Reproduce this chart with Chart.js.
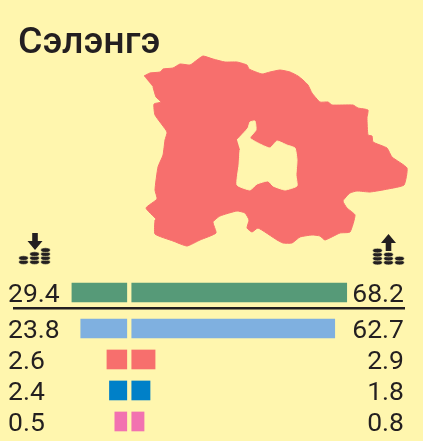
<!DOCTYPE html>
<html>
<head>
<meta charset="utf-8">
<title>Сэлэнгэ</title>
<script src="https://cdn.jsdelivr.net/npm/chart.js@4"></script>
<style>
  html, body { margin: 0; padding: 0; background: #FFF6AE; }
  #wrap { position: relative; width: 423px; height: 441px; overflow: hidden; font-family: Roboto, sans-serif; }
  #wrap canvas, #wrap svg { position: absolute; left: 0; top: 0; }
  h1 { position: absolute; left: 18px; top: 18px; margin: 0; font-size: 37.5px; line-height: 44px; font-weight: 500; color: #231F20; }
</style>
</head>
<body>
<div id="wrap">
  <canvas id="map" width="423" height="441"></canvas>
  <canvas id="bars" width="423" height="441"></canvas>
  <h1 id="title"></h1>
  <svg width="423" height="441" id="icons">
    <defs>
      <g id="coin"><ellipse cx="0" cy="0" rx="4.8" ry="2.3" fill="#231F20" stroke="#FFF6AE" stroke-width="0.6"/></g>
    </defs>
    <g id="iconLeft"></g>
    <g id="iconRight"></g>
  </svg>
</div>
<script>
var regionName = "Сэлэнгэ";

// printed numbers
var leftValues = [29.4, 23.8, 2.6, 2.4, 0.5];
var rightValues = [68.2, 62.7, 2.9, 1.8, 0.8];

// the bars in the picture are not proportional to the printed numbers,
// so their lengths are read off separately (units of the 68.2 bar)
var leftBars = [17.4, 14.6, 6.3, 5.5, 3.8];
var rightBars = [68.2, 64.4, 7.4, 5.8, 3.9];
var rows = [0, 1.16, 2.16, 3.16, 4.16];
var barColors = ["#569A78", "#7FB0E0", "#F76F6D", "#0080C8", "#F272B0"];

var regionOutline = [
  [144,76],[150,73],[160,72],[163,69],[173,68],[180,64],[190,65],[197,60],[203,56],[213,59],[225,62],[237,62],
  [247,65],[249,69],[262,74],[270,72],[280,70],[290,72],[298,76],[303,80],[308,85],[312,93],[320,102],[328,102],
  [332,105],[353,105],[358,108],[368,110],[367,118],[368,135],[372,136],[373,142],[387,148],[392,157],[407,168],
  [404,185],[388,189],[370,192],[357,191],[350,193],[343,201],[347,208],[355,215],[350,232],[340,233],[325,240],
  [320,236],[312,235],[300,237],[292,243],[283,243],[277,240],[258,228],[252,232],[247,228],[249,220],[245,213],
  [237,211],[220,216],[213,222],[216,233],[200,240],[187,246],[173,241],[155,234],[155,220],[156,219],[146,208],
  [157,199],[155,190],[158,167],[163,155],[165,140],[167,132],[155,115],[154,104],[161,102],[156,97],[153,87]
];
var regionHole = [
  [237,140],[248,128],[250,122],[255,121],[256,130],[250,138],[262,145],[270,148],[277,141],[287,145],[295,148],
  [297,160],[296,175],[297,186],[285,190],[273,186],[268,181],[257,184],[250,190],[237,185],[239,165],[240,150]
];

var bgColor = "#FFF6AE";
var textColor = "#231F20";
var regionColor = "#F76F6D";

function toPoints(list){
  return list.map(function(p){ return {x: p[0], y: p[1]}; });
}

document.getElementById("title").textContent = regionName;

new Chart(document.getElementById("map"), {
  type: 'scatter',
  data: {
    datasets: [
      {data: toPoints(regionHole), showLine: true, tension: 0.15, fill: 'shape', backgroundColor: bgColor, borderColor: bgColor, borderWidth: 1, pointRadius: 0, order: 0},
      {data: toPoints(regionOutline), showLine: true, tension: 0.15, fill: 'shape', backgroundColor: regionColor, borderColor: regionColor, borderWidth: 1, pointRadius: 0, order: 1}
    ]
  },
  options: {
    responsive: false,
    animation: false,
    devicePixelRatio: 1,
    layout: {padding: 0},
    plugins: {legend: {display: false}, tooltip: {enabled: false}},
    scales: {
      x: {display: false, min: 0, max: 423},
      y: {display: false, min: 0, max: 441, reverse: true}
    }
  }
});

var rowLabels = {
  id: 'rowLabels',
  afterDatasetsDraw: function(chart){
    var c = chart.ctx, y = chart.scales.y;
    c.save();
    c.fillStyle = textColor;
    c.font = "26.5px Roboto";
    c.textBaseline = "alphabetic";
    rows.forEach(function(r, i){
      var py = y.getPixelForValue(r) + 9.5;
      c.textAlign = "left";
      c.fillText(leftValues[i].toFixed(1), 8, py);
      c.textAlign = "right";
      c.fillText(rightValues[i].toFixed(1), 404, py);
    });
    // line under the total row
    var ly = y.getPixelForValue((rows[0] + rows[1]) / 2) - 2.2;
    c.strokeStyle = textColor;
    c.lineWidth = 2.5;
    c.beginPath();
    c.moveTo(13, ly);
    c.lineTo(405, ly);
    c.stroke();
    c.restore();
  }
};

new Chart(document.getElementById("bars"), {
  type: 'bar',
  plugins: [rowLabels],
  data: {
    datasets: [
      {xAxisID: 'xLeft', data: leftBars.map(function(v, i){ return {x: v, y: rows[i]}; }), backgroundColor: barColors, barThickness: 19, grouped: false},
      {xAxisID: 'xRight', data: rightBars.map(function(v, i){ return {x: v, y: rows[i]}; }), backgroundColor: barColors, barThickness: 19, grouped: false}
    ]
  },
  options: {
    indexAxis: 'y',
    responsive: false,
    animation: false,
    devicePixelRatio: 1,
    layout: {padding: 0},
    plugins: {legend: {display: false}, tooltip: {enabled: false}},
    scales: {
      xLeft: {type: 'linear', display: false, reverse: true, min: -93.9, max: 40.2},
      xRight: {type: 'linear', display: false, min: -41.8, max: 92.4},
      y: {type: 'linear', display: false, offset: false, reverse: true, min: -9.435, max: 4.79}
    }
  }
});

// coin icons
var svgNS = "http://www.w3.org/2000/svg";
function addStack(parent, cx, bottom, count){
  for (var i = 0; i < count; i++) {
    var e = document.createElementNS(svgNS, "use");
    e.setAttribute("href", "#coin");
    e.setAttribute("x", cx);
    e.setAttribute("y", bottom - 2.4 - i * 4);
    parent.appendChild(e);
  }
}
function addArrow(parent, cx, top, up){
  var p = document.createElementNS(svgNS, "path");
  var d = up
    ? "M" + cx + " " + top + " l7.5 9 h-4.7 v8 h-5.6 v-8 h-4.7 z"
    : "M" + cx + " " + (top + 17) + " l7.5 -9 h-4.7 v-8 h-5.6 v8 h-4.7 z";
  p.setAttribute("d", d);
  p.setAttribute("fill", textColor);
  parent.appendChild(p);
}
var iconLeft = document.getElementById("iconLeft");
addArrow(iconLeft, 35, 233, false);
addStack(iconLeft, 23.5, 264.5, 2);
addStack(iconLeft, 34.5, 264.5, 3);
addStack(iconLeft, 45.5, 264.5, 4);
var iconRight = document.getElementById("iconRight");
addArrow(iconRight, 388.5, 234, true);
addStack(iconRight, 377.5, 265, 4);
addStack(iconRight, 388.5, 265, 3);
addStack(iconRight, 399.5, 265, 2);
</script>
</body>
</html>
